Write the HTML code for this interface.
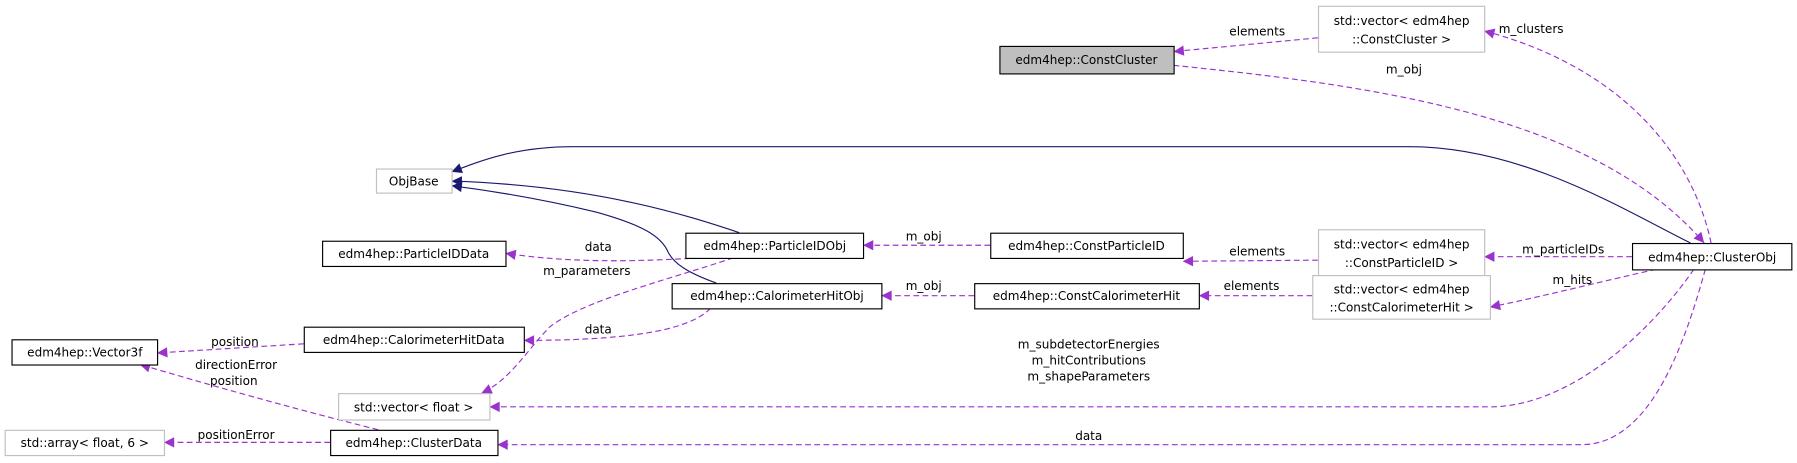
<!DOCTYPE html>
<html><head><meta charset="utf-8"><style>
html,body{margin:0;padding:0;background:#fff;}
svg{display:block;}
text{font-family:"DejaVu Sans","Liberation Sans",sans-serif;font-size:10.5px;fill:#000;}
</style></head><body>
<svg width="1797" height="463" viewBox="0 0 1568 404" preserveAspectRatio="none" xmlns="http://www.w3.org/2000/svg">
<defs>
<marker id="ap" viewBox="0 0 10 10" refX="10" refY="5" markerWidth="11" markerHeight="9" markerUnits="userSpaceOnUse" orient="auto"><path d="M0,0 L10,5 L0,10 z" fill="#9a32cd"/></marker>
<marker id="an" viewBox="0 0 10 10" refX="10" refY="5" markerWidth="11" markerHeight="9" markerUnits="userSpaceOnUse" orient="auto"><path d="M0,0 L10,5 L0,10 z" fill="#191970"/></marker>
</defs>
<g fill="none" stroke="#191970" stroke-width="1">
<path d="M1475,212 C1420,185 1330,128 1230,128 L500,128 C450,128 420,140 394,150" marker-end="url(#an)"/>
<path d="M645,203 C600,188 520,162 394,158" marker-end="url(#an)"/>
<path d="M625,247 C600,238 588,230 583,220 C577,206 560,196 520,185 C470,173 425,166 394,162" marker-end="url(#an)"/>
</g>
<g fill="none" stroke="#9a32cd" stroke-width="1" stroke-dasharray="5,3">
<path d="M1150,33 L1024,45" marker-end="url(#ap)"/>
<path d="M1493,212 C1478,140 1420,60 1295,27" marker-end="url(#ap)"/>
<path d="M1024,57 C1200,75 1390,100 1487,212" marker-end="url(#ap)"/>
<path d="M1424,224 L1295,224" marker-end="url(#ap)"/>
<path d="M1150,227 L1032,228" marker-end="url(#ap)"/>
<path d="M864,214 L753,214" marker-end="url(#ap)"/>
<path d="M1445,235 C1400,245 1340,260 1300,268" marker-end="url(#ap)"/>
<path d="M1145,258 L1046,258" marker-end="url(#ap)"/>
<path d="M850,258 L769,258" marker-end="url(#ap)"/>
<path d="M610,225 C560,228 500,230 441,221" marker-end="url(#ap)"/>
<path d="M640,225 C580,245 510,262 480,285 C460,305 445,332 420,343" marker-end="url(#ap)"/>
<path d="M620,269 C600,290 540,297 457,297" marker-end="url(#ap)"/>
<path d="M1478,235 C1440,290 1370,355 1300,355 L427,355" marker-end="url(#ap)"/>
<path d="M1488,235 C1470,300 1440,388 1380,388 L434,388" marker-end="url(#ap)"/>
<path d="M265,300 L137,308" marker-end="url(#ap)"/>
<path d="M330,375 C250,355 180,335 122,318" marker-end="url(#ap)"/>
<path d="M288,386 L143,386" marker-end="url(#ap)"/>
</g>
<g stroke-width="1">
<rect x="872.5" y="40.5" width="152" height="24" fill="#bfbfbf" stroke="#000"/>
<rect x="1150.5" y="5.5" width="145" height="40" fill="#fff" stroke="#bfbfbf"/>
<rect x="328.5" y="147.5" width="66" height="21" fill="#fff" stroke="#bfbfbf"/>
<rect x="281.5" y="210.5" width="160" height="22" fill="#fff" stroke="#000"/>
<rect x="598.5" y="203.5" width="155" height="22" fill="#fff" stroke="#000"/>
<rect x="586.5" y="247.5" width="183" height="22" fill="#fff" stroke="#000"/>
<rect x="864.5" y="203.5" width="168" height="22" fill="#fff" stroke="#000"/>
<rect x="850.5" y="247.5" width="196" height="22" fill="#fff" stroke="#000"/>
<rect x="1150.5" y="200.5" width="145" height="40" fill="#fff" stroke="#bfbfbf"/>
<rect x="1145.5" y="240.5" width="155" height="38" fill="#fff" stroke="#bfbfbf"/>
<rect x="1424.5" y="212.5" width="139" height="23" fill="#fff" stroke="#000"/>
<rect x="265.5" y="285.5" width="192" height="22" fill="#fff" stroke="#000"/>
<rect x="10.5" y="296.5" width="127" height="22" fill="#fff" stroke="#000"/>
<rect x="295.5" y="343.5" width="132" height="23" fill="#fff" stroke="#bfbfbf"/>
<rect x="4.5" y="375.5" width="139" height="22" fill="#fff" stroke="#bfbfbf"/>
<rect x="288.5" y="375.5" width="146" height="22" fill="#fff" stroke="#000"/>
</g>
<g text-anchor="middle">
<text x="948" y="56">edm4hep::ConstCluster</text>
<text x="1223" y="22">std::vector&lt; edm4hep</text>
<text x="1223" y="38">::ConstCluster &gt;</text>
<text x="361" y="162">ObjBase</text>
<text x="361" y="225">edm4hep::ParticleIDData</text>
<text x="676" y="218">edm4hep::ParticleIDObj</text>
<text x="678" y="262">edm4hep::CalorimeterHitObj</text>
<text x="948" y="218">edm4hep::ConstParticleID</text>
<text x="948" y="262">edm4hep::ConstCalorimeterHit</text>
<text x="1223" y="217">std::vector&lt; edm4hep</text>
<text x="1223" y="233">::ConstParticleID &gt;</text>
<text x="1223" y="256">std::vector&lt; edm4hep</text>
<text x="1223" y="272">::ConstCalorimeterHit &gt;</text>
<text x="1494" y="228">edm4hep::ClusterObj</text>
<text x="361" y="300">edm4hep::CalorimeterHitData</text>
<text x="74" y="311">edm4hep::Vector3f</text>
<text x="361" y="359">std::vector&lt; float &gt;</text>
<text x="74" y="390">std::array&lt; float, 6 &gt;</text>
<text x="361" y="390">edm4hep::ClusterData</text>
<text x="1097" y="31">elements</text>
<text x="1336" y="29">m_clusters</text>
<text x="1225" y="64">m_obj</text>
<text x="1364" y="221">m_particleIDs</text>
<text x="1097" y="223">elements</text>
<text x="806" y="210">m_obj</text>
<text x="1372" y="248">m_hits</text>
<text x="1092" y="253">elements</text>
<text x="806" y="253">m_obj</text>
<text x="522" y="219">data</text>
<text x="512" y="240">m_parameters</text>
<text x="522" y="291">data</text>
<text x="950" y="304">m_subdetectorEnergies</text>
<text x="950" y="318">m_hitContributions</text>
<text x="950" y="332">m_shapeParameters</text>
<text x="950" y="384">data</text>
<text x="205" y="302">position</text>
<text x="206" y="322">directionError</text>
<text x="204" y="336">position</text>
<text x="206" y="383">positionError</text>
</g>
</svg>
</body></html>
